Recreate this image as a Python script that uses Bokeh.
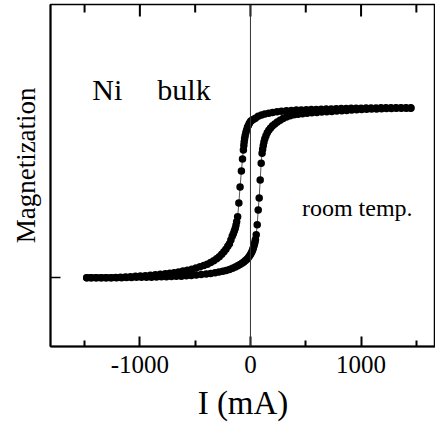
from bokeh.plotting import figure
from bokeh.models import Range1d, LinearAxis, FixedTicker, Span, Label
from bokeh.embed import file_html
from bokeh.resources import INLINE

# descending branch (field from + to -)
down_x = [1450, 1405, 1360, 1315, 1270, 1225, 1180, 1135, 1090, 1045, 1000, 955, 910, 865, 820, 775, 730, 685, 640, 595, 550, 505, 460,
          415, 370, 325, 280, 240, 200, 165, 130, 100, 70, 45, 25, 10, 0,
          -10, -18, -27, -35, -42, -48, -53, -57, -60,
          -64, -72, -82, -94, -105, -116,
          -125, -131, -138, -146, -155, -165, -177, -190,
          -205, -222, -240, -260, -282, -306, -332, -360, -390, -422, -456, -492, -530, -570, -610, -650, -690, -730, -770,
          -815, -860, -905, -950, -995, -1040, -1085, -1130, -1175, -1220, -1265, -1310, -1355, -1400, -1445, -1480]
down_y = [1.003, 1.003, 1.003, 1.003, 1.003, 1.003, 1.003, 1.002, 1.002, 1.001, 1.0, 1.0, 1.0, 0.999, 0.998, 0.997, 0.996, 0.995, 0.994, 0.993, 0.992, 0.991, 0.990,
          0.989, 0.987, 0.985, 0.982, 0.979, 0.975, 0.971, 0.966, 0.96, 0.952, 0.941, 0.934, 0.928, 0.922,
          0.912, 0.9, 0.888, 0.87, 0.855, 0.838, 0.82, 0.8, 0.78,
          0.753, 0.7, 0.629, 0.535, 0.441, 0.359,
          0.33, 0.31, 0.29, 0.275, 0.26, 0.245, 0.222, 0.2,
          0.185, 0.168, 0.153, 0.138, 0.124, 0.112, 0.1, 0.09, 0.08, 0.072, 0.064, 0.057, 0.05, 0.044, 0.039, 0.034, 0.029, 0.026, 0.023,
          0.02, 0.017, 0.015, 0.012, 0.01, 0.008, 0.006, 0.004, 0.003, 0.001, 0, 0, 0, 0, 0, 0]

# ascending branch (field from - to +)
up_x = [-1480, -1435, -1390, -1345, -1300, -1255, -1210, -1165, -1120, -1075, -1030, -985, -940, -895, -850, -805, -760, -715, -670, -625, -580, -535, -490, -445, -400,
        -360, -320, -285, -250, -220, -190, -162, -137, -115, -95, -77, -60, -45, -32, -20, -9, 0, 9, 16, 22, 27, 32, 37, 41, 45,
        52, 61, 70, 79, 88, 97, 105,
        110, 116, 122, 130, 140, 152, 166, 182, 200, 220, 243, 268, 295, 325, 358, 393, 430, 470, 512, 555,
        600, 645, 690, 735, 780, 825, 870, 915, 960, 1005, 1050, 1095, 1140, 1185, 1230, 1275, 1320, 1365, 1410, 1450]
up_y = [0, 0, 0, 0, 0, 0, 0, 0, 0.001, 0.001, 0.002, 0.002, 0.003, 0.003, 0.004, 0.005, 0.006, 0.007, 0.008, 0.009, 0.011, 0.013, 0.016, 0.019, 0.022,
        0.025, 0.029, 0.033, 0.038, 0.043, 0.049, 0.056, 0.063, 0.071, 0.078, 0.085, 0.093, 0.101, 0.109, 0.118, 0.128, 0.137, 0.147, 0.158, 0.168, 0.178, 0.19, 0.2, 0.212, 0.225,
        0.253, 0.312, 0.4, 0.47, 0.576, 0.676, 0.735,
        0.758, 0.78, 0.8, 0.82, 0.838, 0.855, 0.87, 0.884, 0.896, 0.907, 0.918, 0.929, 0.939, 0.948, 0.955, 0.961, 0.965, 0.968, 0.971, 0.973,
        0.975, 0.977, 0.979, 0.981, 0.983, 0.985, 0.987, 0.989, 0.991, 0.993, 0.994, 0.995, 0.996, 0.997, 0.998, 0.999, 1.0, 1.0, 1.0, 1.0]

x_major = [-1000, 0, 1000]
x_minor = [-1500, -500, 500, 1500]
x_labels = ["-1000", "0", "1000"]
y_ticks = [0]

FONT = "Liberation Serif"
Y0, Y1 = -0.406, 1.612
PX_PER_Y = 343 / (Y1 - Y0)   # frame height (px) / y span

p = figure(width=435, height=423, x_range=Range1d(-1808, 1673), y_range=Range1d(Y0, Y1),
           output_backend="svg", toolbar_location=None,
           min_border_left=50, min_border_right=0, min_border_top=4, min_border_bottom=76,
           x_axis_location=None, y_axis_location=None)
p.grid.visible = False
# frame outline gives the top edge (its right edge falls on the window edge)
p.outline_line_color = "black"
p.outline_line_width = 1.5
p.outline_line_alpha = 1.0
p.background_fill_color = "white"
p.border_fill_color = "white"
p.title.visible = False

xb = LinearAxis(ticker=FixedTicker(ticks=x_major, minor_ticks=x_minor),
                major_label_overrides={v: s for v, s in zip(x_major, x_labels)})
xb.axis_label = "I (mA)"
xb.axis_label_text_font = FONT
xb.axis_label_text_font_size = "33px"
xb.axis_label_text_font_style = "normal"
xb.axis_label_text_color = "black"
xb.axis_label_standoff = 9
xb.major_label_text_font = FONT
xb.major_label_text_font_size = "25px"
xb.major_label_text_color = "black"
xb.major_label_standoff = 9
xb.major_tick_in = 10
xb.major_tick_out = 0
xb.minor_tick_in = 6
xb.minor_tick_out = 0
xb.axis_line_width = 2
xb.axis_line_color = "black"
xb.major_tick_line_width = 2
xb.minor_tick_line_width = 2
p.add_layout(xb, "below")

yl = LinearAxis(ticker=FixedTicker(ticks=y_ticks, minor_ticks=[]),
                major_label_overrides={v: "" for v in y_ticks})
yl.axis_label = "\u00a0\u00a0\u00a0Magnetization"
yl.axis_label_text_font = FONT
yl.axis_label_text_font_size = "27px"
yl.axis_label_text_font_style = "normal"
yl.axis_label_text_color = "black"
yl.axis_label_standoff = 10
yl.major_label_text_font_size = "1px"
yl.major_label_standoff = 0
yl.major_tick_in = 10
yl.major_tick_out = 0
yl.axis_line_width = 2
yl.axis_line_color = "black"
yl.major_tick_line_width = 1.5
p.add_layout(yl, "left")

p.add_layout(Span(location=0, dimension="height", line_color="#333333", line_width=1))

p.line(down_x, down_y, line_color="#555555", line_width=1)
p.line(up_x, up_y, line_color="#555555", line_width=1)
p.scatter(down_x, down_y, size=7.5, fill_color="black", line_color=None)
p.scatter(up_x, up_y, size=7.5, fill_color="black", line_color=None)

# inward tick marks along the top edge at the same positions as the bottom axis
p.segment(x0=x_major, y0=[Y1] * len(x_major), x1=x_major, y1=[Y1 - 12 / PX_PER_Y] * len(x_major),
          line_color="black", line_width=2)
p.segment(x0=x_minor, y0=[Y1] * len(x_minor), x1=x_minor, y1=[Y1 - 8 / PX_PER_Y] * len(x_minor),
          line_color="black", line_width=2)

p.add_layout(Label(x=-1430, y=1.112, text="Ni", text_font=FONT, text_font_size="30px",
                   text_color="black", text_baseline="alphabetic"))
p.add_layout(Label(x=-842, y=1.112, text="bulk", text_font=FONT, text_font_size="30px",
                   text_color="black", text_baseline="alphabetic"))
p.add_layout(Label(x=465, y=0.412, text="room temp.", text_font=FONT, text_font_size="24px",
                   text_color="black", text_baseline="alphabetic"))

open("out.html", "w").write(file_html(p, INLINE))
